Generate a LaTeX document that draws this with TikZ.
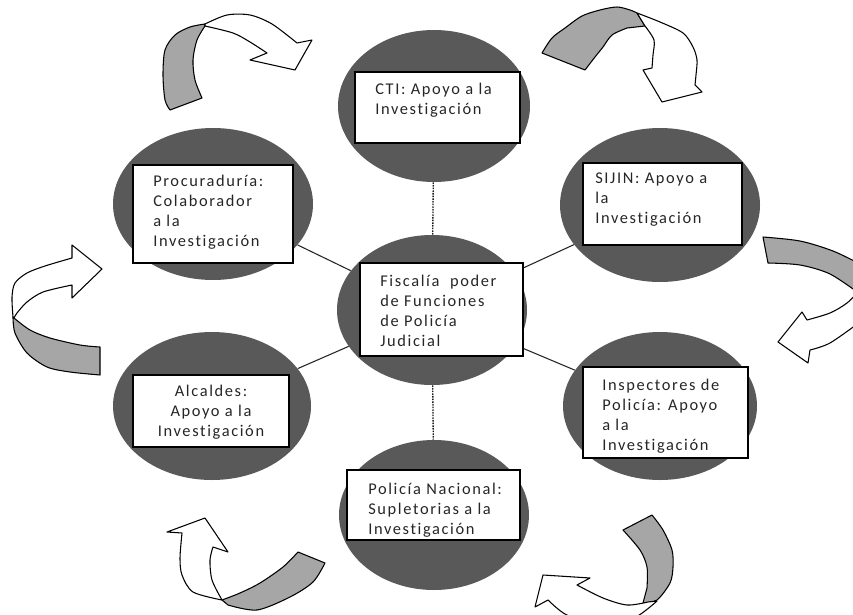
\documentclass[tikz,border=0pt]{standalone}
\usepackage{fontspec}
\setmainfont{Carlito}[LetterSpace=10.0, Ligatures={NoCommon}]
\usetikzlibrary{shapes.geometric}
\definecolor{ellgray}{RGB}{89,89,89}
\definecolor{arrgray}{RGB}{166,166,166}
\begin{document}
\begin{tikzpicture}[x=0.75pt,y=-0.75pt,
  blob/.style={ellipse, fill=ellgray, draw=none, inner sep=0pt},
  card/.style={rectangle, draw=black, line width=1pt, fill=white, inner sep=0pt},
  txt/.style={inner sep=0pt, align=left, anchor=west, text=black!85,
              font=\fontsize{12.3}{15}\selectfont},
  link/.style={draw=black!85, line width=0.8pt},
  dotlink/.style={draw=black!90, line width=1pt, dash pattern=on 1.2pt off 0.8pt},
  backband/.style={fill=arrgray, draw=black, line width=0.8pt, line join=round},
  frontband/.style={fill=white, draw=black, line width=0.8pt, line join=round}]
\path[use as bounding box] (0,0) rectangle (853,614);
\clip (0,0) rectangle (853,614);
\fill[white] (0,0) rectangle (853,614);

% ellipses
\node[blob, minimum width=144pt, minimum height=114pt] (ctiE) at (434,106) {};
\node[blob, minimum width=150pt, minimum height=114pt] (proE) at (213,204) {};
\node[blob, minimum width=150pt, minimum height=115.5pt] (sijE) at (660,205) {};
\node[blob, minimum width=142.5pt, minimum height=112.5pt] (cenE) at (432,310) {};
\node[blob, minimum width=148.5pt, minimum height=111pt] (alcE) at (212,406) {};
\node[blob, minimum width=145.5pt, minimum height=111pt] (insE) at (660,406) {};
\node[blob, minimum width=142.5pt, minimum height=112.5pt] (polE) at (434,515) {};

% connectors
\draw[dotlink] (ctiE) -- (cenE);
\draw[dotlink] (cenE) -- (polE);
\draw[link] (cenE) -- (proE);
\draw[link] (cenE) -- (sijE);
\draw[link] (cenE) -- (alcE);
\draw[link] (cenE) -- (insE);

% boxes
\node[card, minimum width=123.75pt, minimum height=53.25pt] (ctiB) at (437.5,107.5) {};
\node[card, minimum width=120pt, minimum height=73.5pt] (proB) at (213,214) {};
\node[card, minimum width=119.25pt, minimum height=61.5pt] (sijB) at (662.5,204) {};
\node[card, minimum width=122.25pt, minimum height=69.75pt] (cenB) at (441.5,309.5) {};
\node[card, minimum width=117pt, minimum height=54pt] (alcB) at (211,411) {};
\node[card, minimum width=123.75pt, minimum height=68.25pt] (insB) at (665.5,412.5) {};
\node[card, minimum width=129.75pt, minimum height=52.5pt] (polB) at (433.5,505) {};

% texts
\node[txt] (ctiT) at (375,100) {CTI: Apoyo a la\\Investigación};
\node[txt] (proT) at (153,212) {Procuraduría:\\Colaborador\\a la\\Investigación};
\node[txt] (sijT) at (595,200) {SIJIN: Apoyo a\\la\\Investigación};
\node[txt] (cenT) at (380,311) {Fiscalía\ \ poder\\de Funciones\\de Policía\\Judicial};
\node[txt, align=center, anchor=center] (alcT) at (211,412) {Alcaldes:\\Apoyo a la\\Investigación};
\node[txt] (insT) at (602,416) {Inspectores de\\Policía: Apoyo\\a la\\Investigación};
\node[txt] (polT) at (368,510) {Policía Nacional:\\Supletorias a la\\Investigación};

% curved arrows
% top-left
\path[backband] plot[smooth] coordinates {(205,24) (190,27) (175,35) (165,50) (163,75) (165,100) (170,110)}
  -- plot[smooth] coordinates {(202,98) (195,80) (193,60) (197,40) (205,26)} -- cycle;
\path[frontband] plot[smooth] coordinates {(205,24) (227,15) (250,15) (272,24) (297,43)}
  -- (312,40) -- (295,70) -- (250,60)
  -- plot[smooth] coordinates {(267,53) (250,42) (233,33) (205,26)} -- cycle;
% top-right
\path[backband] plot[smooth] coordinates {(542,53) (552,38) (565,28) (582,16) (600,10) (617,7) (630,10) (637,13)}
  -- (645,26)
  -- plot[smooth] coordinates {(627,28) (612,35) (603,47) (595,57) (585,70)} -- cycle;
\path[frontband] plot[smooth] coordinates {(637,13) (660,22) (683,33) (693,47) (697,60) (696,75) (695,85)}
  -- (702,92) -- (662,102) -- (643,70)
  -- plot[smooth] coordinates {(652,68) (653,55) (654,40) (645,26)} -- cycle;
% left
\path[frontband] plot[smooth] coordinates {(13,317) (12,297) (15,283) (27,273) (45,266) (72,258)}
  -- (72,245) -- (102,269) -- (72,298)
  -- plot[smooth] coordinates {(72,285) (43,292) (27,302) (17,313) (14,318)} -- cycle;
\path[backband] plot[smooth] coordinates {(13,317) (15,333) (27,353) (47,367) (70,372) (100,375)}
  -- plot[smooth] coordinates {(100,347) (80,345) (50,338) (30,330) (14,318)} -- cycle;
% right
\path[backband] (763,237) -- plot[smooth] coordinates {(768,263) (800,265) (830,274) (860,294)}
  -- plot[smooth] coordinates {(860,264) (833,251) (800,241) (763,237)} -- cycle;
\path[frontband] plot[smooth] coordinates {(860,290) (847,303) (830,313) (807,320)}
  -- (802,312) -- (778,342) -- (808,363)
  -- plot[smooth] coordinates {(810,350) (830,343) (860,322)} -- cycle;
% bottom-left
\path[backband] (325,563) -- plot[smooth] coordinates {(298,552) (283,567) (260,583) (240,593) (222,600)}
  -- plot[smooth] coordinates {(228,605) (257,610) (290,597) (313,582) (325,563)} -- cycle;
\path[frontband] plot[smooth] coordinates {(222,600) (193,592) (182,575) (180,558) (182,533)}
  -- (167,532) -- (205,518) -- (228,552)
  -- plot[smooth] coordinates {(213,547) (210,560) (212,580) (222,600)} -- cycle;
% bottom-right
\path[backband] plot[smooth] coordinates {(652,515) (663,530) (672,550) (673,567) (670,583) (657,600) (643,603)}
  -- plot[smooth] coordinates {(647,588) (647,567) (640,550) (623,530)} -- cycle;
\path[frontband] plot[smooth] coordinates {(648,602) (627,605) (603,598) (577,585)}
  -- (590,578) -- (543,575) -- (535,607)
  -- plot[smooth] coordinates {(548,600) (565,614) (590,622) (630,620) (657,601)} -- cycle;
\end{tikzpicture}
\end{document}
